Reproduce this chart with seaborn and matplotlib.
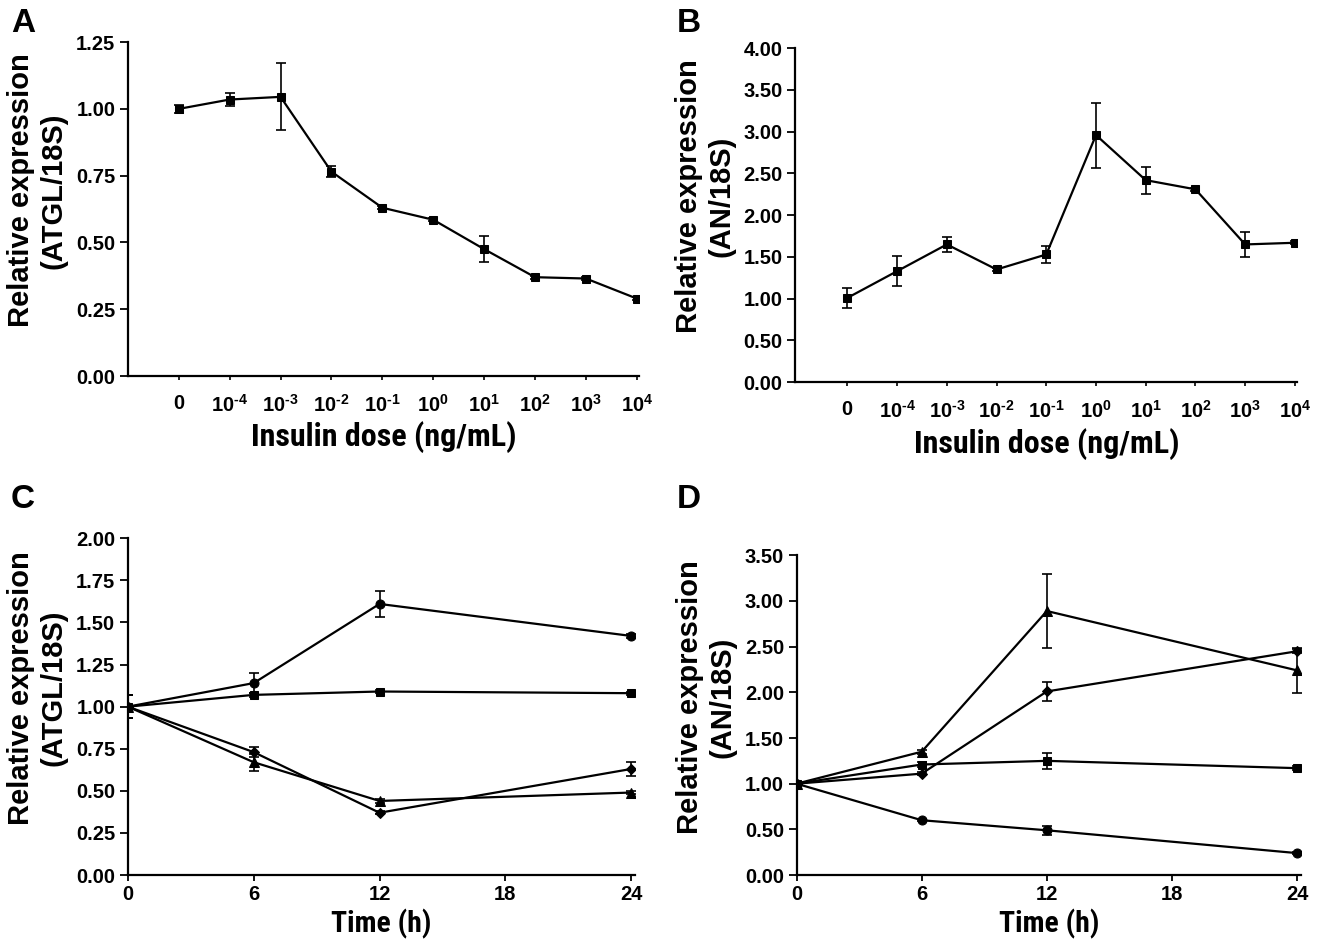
import matplotlib
matplotlib.use("Agg")
import matplotlib.pyplot as plt
import matplotlib.font_manager as fm
import seaborn as sns
import pandas as pd
import numpy as np

sns.set_theme(style="ticks")
for k in ['text.color', 'axes.labelcolor', 'xtick.color', 'ytick.color', 'axes.edgecolor']:
    plt.rcParams[k] = 'black'
plt.rcParams['font.family'] = ['Liberation Sans', 'DejaVu Sans']
plt.rcParams['font.weight'] = 'bold'

# look for a condensed bold sans font (optional)
def _wnum(w):
    if isinstance(w, (int, float)):
        return w
    return fm.weight_dict.get(w, 400)

cond_path = None
for f in fm.fontManager.ttflist:
    nm = f.name.lower()
    is_cond = ('condensed' in nm or 'narrow' in nm or
               str(f.stretch) in ('condensed', 'semi-condensed', '75', '87.5'))
    if is_cond and _wnum(f.weight) >= 600 and f.style == 'normal' and 'mono' not in nm and 'serif' not in nm:
        if cond_path is None or 'liberation' in nm or 'roboto' in nm:
            cond_path = f.fname
narrow_fp = fm.FontProperties(fname=cond_path) if cond_path else fm.FontProperties(family='Liberation Sans', weight='bold')

# ---------------- data ----------------
dose_labels = ["0", "10^{\u20104}", "10^{\u20103}", "10^{\u20102}", "10^{\u20101}", "10^{0}", "10^{1}", "10^{2}", "10^{3}", "10^{4}"]
atgl_dose = [1.00, 1.035, 1.045, 0.765, 0.63, 0.585, 0.475, 0.37, 0.365, 0.29]
atgl_dose_err = [0.015, 0.025, 0.125, 0.02, 0.006, 0.006, 0.05, 0.006, 0.006, 0.006]
an_dose = [1.01, 1.33, 1.65, 1.35, 1.53, 2.96, 2.42, 2.31, 1.65, 1.67]
an_dose_err = [0.12, 0.18, 0.09, 0.015, 0.10, 0.39, 0.16, 0.02, 0.15, 0.02]

time_h = [0, 6, 12, 24]
c_circle = [1.00, 1.14, 1.61, 1.42]
c_circle_err = [0.07, 0.06, 0.075, 0.01]
c_square = [1.00, 1.07, 1.09, 1.08]
c_square_err = [0.07, 0.01, 0.01, 0.01]
c_diamond = [1.00, 0.73, 0.37, 0.63]
c_diamond_err = [0.07, 0.03, 0.01, 0.04]
c_triangle = [1.00, 0.67, 0.44, 0.49]
c_triangle_err = [0.07, 0.05, 0.01, 0.01]

d_triangle = [1.00, 1.35, 2.89, 2.24]
d_triangle_err = [0.02, 0.02, 0.40, 0.25]
d_diamond = [1.00, 1.11, 2.01, 2.45]
d_diamond_err = [0.02, 0.02, 0.10, 0.02]
d_square = [1.00, 1.21, 1.25, 1.17]
d_square_err = [0.02, 0.03, 0.09, 0.02]
d_circle = [1.00, 0.60, 0.49, 0.24]
d_circle_err = [0.02, 0.01, 0.05, 0.01]

fig = plt.figure(figsize=(13.32, 9.46), dpi=100)
axA = fig.add_axes([0.096, 0.6025, 0.384, 0.353])
axB = fig.add_axes([0.597, 0.596, 0.377, 0.353])
axC = fig.add_axes([0.096, 0.075, 0.381, 0.356])
axD = fig.add_axes([0.598, 0.075, 0.379, 0.338])

tick_fs = 14.5

def style(ax):
    sns.despine(ax=ax)
    for s in ['left', 'bottom']:
        ax.spines[s].set_linewidth(1.6)
        ax.spines[s].set_color('black')
    ax.tick_params(axis='both', width=1.3, length=6, pad=3, color='black', labelsize=tick_fs, labelcolor='black')
    for lab in ax.get_xticklabels() + ax.get_yticklabels():
        lab.set_fontweight('bold')
    ax.set_facecolor('white')

def draw(ax, x, y, err, marker, ms):
    df = pd.DataFrame({'x': x, 'y': y})
    sns.lineplot(data=df, x='x', y='y', ax=ax, color='black', linewidth=1.6,
                 marker=marker, markersize=ms, markeredgecolor='black', markerfacecolor='black')
    ax.errorbar(x, y, yerr=err, fmt='none', ecolor='black', elinewidth=1.2, capsize=3.5, capthick=1.2)

# Panel A
xpos = list(range(len(dose_labels)))
draw(axA, xpos, atgl_dose, atgl_dose_err, 's', 5.5)
axA.set_xlim(-1, 9.05)
axA.set_ylim(0, 1.25)
axA.set_yticks(np.arange(0, 1.26, 0.25))
axA.set_yticklabels([f"{v:.2f}" for v in np.arange(0, 1.26, 0.25)])
axA.set_xticks(xpos)
axA.set_xticklabels([r"$\mathdefault{" + l + "}$" for l in dose_labels])

# Panel B
draw(axB, xpos, an_dose, an_dose_err, 's', 5.5)
axB.set_xlim(-1.05, 9.05)
axB.set_ylim(0, 4.0)
axB.set_yticks(np.arange(0, 4.01, 0.5))
axB.set_yticklabels([f"{v:.2f}" for v in np.arange(0, 4.01, 0.5)])
axB.set_xticks(xpos)
axB.set_xticklabels([r"$\mathdefault{" + l + "}$" for l in dose_labels])

# Panel C
draw(axC, time_h, c_circle, c_circle_err, 'o', 6.5)
draw(axC, time_h, c_square, c_square_err, 's', 6)
draw(axC, time_h, c_diamond, c_diamond_err, 'D', 5.5)
draw(axC, time_h, c_triangle, c_triangle_err, '^', 7.5)
axC.set_xlim(0, 24.2)
axC.set_ylim(0, 2.0)
axC.set_yticks(np.arange(0, 2.01, 0.25))
axC.set_yticklabels([f"{v:.2f}" for v in np.arange(0, 2.01, 0.25)])
axC.set_xticks([0, 6, 12, 18, 24])

# Panel D
draw(axD, time_h, d_triangle, d_triangle_err, '^', 7.5)
draw(axD, time_h, d_diamond, d_diamond_err, 'D', 5.5)
draw(axD, time_h, d_square, d_square_err, 's', 6)
draw(axD, time_h, d_circle, d_circle_err, 'o', 6.5)
axD.set_xlim(0, 24.2)
axD.set_ylim(0, 3.5)
axD.set_yticks(np.arange(0, 3.51, 0.5))
axD.set_yticklabels([f"{v:.2f}" for v in np.arange(0, 3.51, 0.5)])
axD.set_xticks([0, 6, 12, 18, 24])

for ax in [axA, axB, axC, axD]:
    style(ax)
for ax in [axA, axB]:
    ax.tick_params(axis='x', length=3, width=1.2, pad=10)
    for lab in ax.get_xticklabels():
        lab.set_fontsize(14.5)
        lab.set_fontweight('bold')
for ax in [axC, axD]:
    ax.tick_params(axis='x', length=4, pad=3)

ylab_kw = dict(fontsize=21, fontweight='bold', family=['Liberation Sans', 'DejaVu Sans'], linespacing=1.2)
axA.set_ylabel("Relative expression\n(ATGL/18S)", **ylab_kw)
axB.set_ylabel("Relative expression\n(AN/18S)", **ylab_kw)
axC.set_ylabel("Relative expression\n(ATGL/18S)", **ylab_kw)
axD.set_ylabel("Relative expression\n(AN/18S)", **ylab_kw)
fig_w_px = 1332
for ax in [axA, axB, axC, axD]:
    w_px = ax.get_position().width * fig_w_px
    ax.yaxis.set_label_coords(-60 / w_px, 0.556)

def fit_label(lab, target_px):
    fig.canvas.draw()
    w = lab.get_window_extent().width
    lab.set_fontsize(lab.get_fontsize() * target_px / w)

for ax, txt, pad in [(axA, "Insulin dose (ng/mL)", 4), (axB, "Insulin dose (ng/mL)", 4),
                     (axC, "Time (h)", 4), (axD, "Time (h)", 4)]:
    ax.set_xlabel(txt, labelpad=pad, fontproperties=narrow_fp, fontsize=20)
for ax, target in [(axA, 265), (axB, 265), (axC, 100), (axD, 100)]:
    fit_label(ax.xaxis.label, target)

letter_kw = dict(fontsize=24, fontweight='bold', family=['Liberation Sans', 'DejaVu Sans'], va='top', ha='left')
fig.text(11 / 1332, 1 - 8 / 946, "A", **letter_kw)
fig.text(677 / 1332, 1 - 8 / 946, "B", **letter_kw)
fig.text(11 / 1332, 1 - 484 / 946, "C", **letter_kw)
fig.text(677 / 1332, 1 - 484 / 946, "D", **letter_kw)

fig.savefig("out.png", dpi=100, facecolor='white')
